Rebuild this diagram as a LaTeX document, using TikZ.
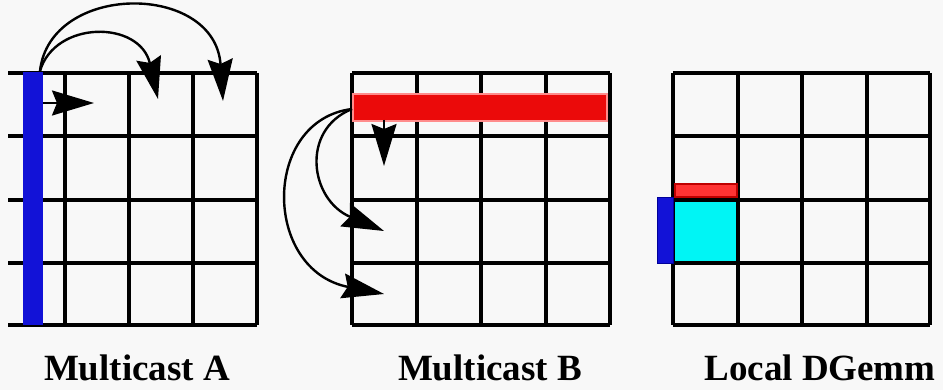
\documentclass[tikz,border=0pt]{standalone}
\usepackage{fontspec}
\setmainfont{Liberation Serif}
\usetikzlibrary{arrows.meta}
\definecolor{bg}{RGB}{248,248,248}
\definecolor{barblue}{RGB}{18,18,215}
\definecolor{barred}{RGB}{235,10,10}
\definecolor{blockcyan}{RGB}{0,245,245}
\tikzset{
  gridline/.style={line width=3.2pt, black},
  bcast/.style={line width=2.4pt, black, -{Stealth[length=42pt,width=25pt,inset=5pt]}},
  caption/.style={anchor=base, font=\bfseries\fontsize{37}{40}\selectfont, inner sep=0pt},
}
\begin{document}
\begin{tikzpicture}[x=1pt,y=-1pt]
  \fill[bg] (0,0) rectangle (943,390);
  \useasboundingbox (0,0) rectangle (943,390);

  % ---- panel A: column of A broadcast along the process row ----
  \foreach \y in {73,136,200,263,325} \draw[gridline] (8,\y) -- (257,\y);
  \foreach \x in {65,129,193,257} \draw[gridline] (\x,73) -- (\x,325);
  \fill[barblue] (23,72) rectangle (43,325);
  \coordinate (a0) at (40,71);
  \coordinate (a1) at (43,103);
  \coordinate (a1t) at (94,103);
  \coordinate (a2t) at (158,99);
  \coordinate (a3t) at (223,101);
  \draw[bcast] (a1) -- (a1t);
  \draw[bcast] (a0) .. controls (55,20) and (140,20) .. (a2t);
  \draw[bcast] (a0) .. controls (50,-18) and (215,-18) .. (a3t);
  \node[caption] (la) at (137,380) {Multicast A};

  % ---- panel B: row of B broadcast along the process column ----
  \foreach \y in {73,136,200,263,325} \draw[gridline] (352,\y) -- (610,\y);
  \foreach \x in {352,417,481,546,610} \draw[gridline] (\x,73) -- (\x,325);
  \filldraw[fill=barred, draw=red!45!white, line width=1.2pt] (353,94) rectangle (607,121);
  \coordinate (b0) at (352,109);
  \coordinate (b1) at (384,120);
  \coordinate (b1t) at (384,166);
  \coordinate (b2t) at (384,231);
  \coordinate (b3t) at (384,294);
  \draw[bcast] (b1) -- (b1t);
  \draw[bcast] (b0) .. controls (300,130) and (310,200) .. (b2t);
  \draw[bcast] (b0) .. controls (262,120) and (262,270) .. (b3t);
  \node[caption] (lb) at (490,380) {Multicast B};

  % ---- panel C: local update of one block ----
  \fill[blockcyan] (673,200) rectangle (738,263);
  \foreach \y in {73,136,200,263,325} \draw[gridline] (673,\y) -- (930,\y);
  \foreach \x in {673,738,802,867,930} \draw[gridline] (\x,73) -- (\x,325);
  \filldraw[fill=red!80!white, draw=red!75!black, line width=1.2pt] (675,184) rectangle (737,197);
  \filldraw[fill=barblue, draw=blue!60!black, line width=1pt] (657,198) rectangle (673,264);
  \node[caption] (lc) at (820,380) {Local DGemm};
\end{tikzpicture}
\end{document}
